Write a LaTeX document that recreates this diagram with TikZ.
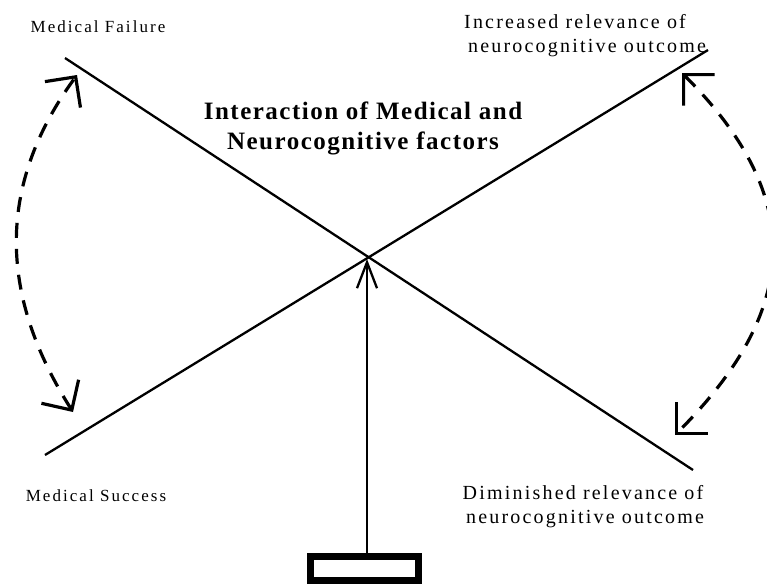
\documentclass[tikz,border=0pt]{standalone}
\usepackage{fontspec}
\setmainfont{Liberation Serif}
\newfontfamily\lblfont[LetterSpace=12]{Liberation Serif}
\newfontfamily\rlblfont[LetterSpace=11]{Liberation Serif}
\newfontfamily\ttlfont[LetterSpace=6]{Liberation Serif}
\usetikzlibrary{arrows.meta}
\begin{document}
\begin{tikzpicture}[x=1pt,y=-1pt,
  axisline/.style={line width=2.3pt},
  swing/.style={line width=3.2pt, dash pattern=on 15pt off 11pt,
    {Straight Barb[length=22pt,width=44pt,line width=3.2pt]}-{Straight Barb[length=22pt,width=44pt,line width=3.2pt]}},
  lbl/.style={anchor=base, inner sep=0pt, font=\lblfont\fontsize{17}{20}\selectfont},
  rlbl/.style={anchor=base, inner sep=0pt, font=\rlblfont\fontsize{20}{24}\selectfont},
  ttl/.style={align=center, inner sep=0pt, font=\ttlfont\bfseries\fontsize{25}{30}\selectfont},
  holder/.style={draw, line width=7pt, minimum width=108pt, minimum height=24pt, inner sep=0pt}
]
\clip (0,0) rectangle (767,587);
\fill[white] (0,0) rectangle (767,587);

% main crossing lines
\coordinate (mf) at (65,58);
\coordinate (dr) at (693,470);
\coordinate (ms) at (45,455);
\coordinate (ir) at (708,50);
\coordinate (cross) at (367,259);
\draw[axisline] (mf) -- (dr);
\draw[axisline] (ms) -- (ir);

% labels
\node[lbl] (tfail) at (98,32) {Medical Failure};
\node[lbl] (tsucc) at (96,501) {Medical Success};
\node[rlbl] (tinc1) at (575,28) {Increased relevance of};
\node[rlbl] (tinc2) at (587,52) {neurocognitive outcome};
\node[rlbl] (tdim1) at (583,499) {Diminished relevance of};
\node[rlbl] (tdim2) at (585,523) {neurocognitive outcome};
\node[ttl] (title) at (363,128) {Interaction of Medical and\\Neurocognitive factors};

% box and vertical arrow
\node[holder] (box) at (364.5,568.5) {};
\draw[line width=2.3pt, -{Straight Barb[length=26pt,width=20pt,line width=2.3pt]}] (box.north -| cross) -- (cross);

% dashed swing arrows
\coordinate (lb) at (73,412);
\coordinate (lt) at (77,75);
\coordinate (rt) at (682,73);
\coordinate (rb) at (675,435);
\draw[swing] (lb) .. controls (2,300) and (-7,190) .. (lt);
\draw[swing] (rt) .. controls (807,198) and (800,310) .. (rb);
\end{tikzpicture}
\end{document}
